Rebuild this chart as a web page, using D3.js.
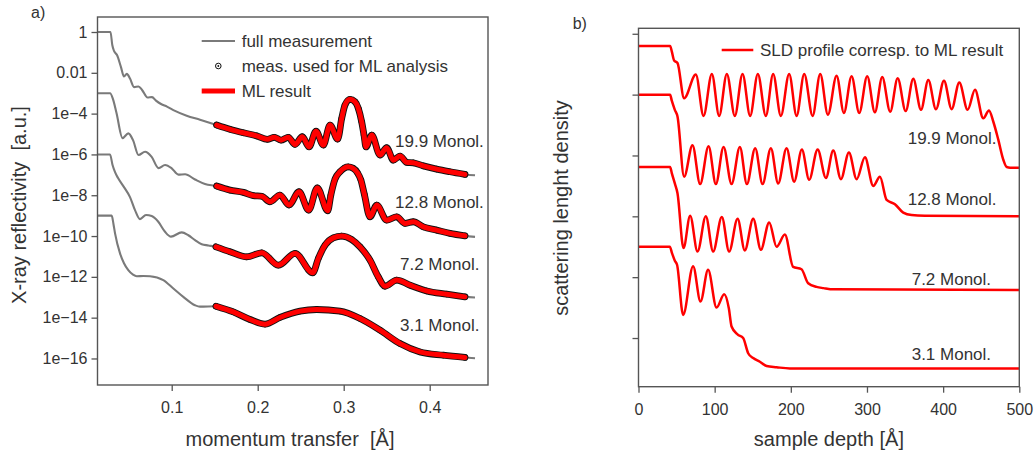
<!DOCTYPE html>
<html>
<head>
<meta charset="utf-8">
<script src="https://cdn.jsdelivr.net/npm/d3@7"></script>
<style>
  html, body { margin: 0; padding: 0; background: #fff; }
  svg { display: block; font-family: "Liberation Sans", Arial, sans-serif; }
</style>
</head>
<body>
<svg id="chart" width="1034" height="458"></svg>
<script>
// ---------- panel a: reflectivity curves, [q (1/Å), log10 R] ----------
const full199Low = [[0.0137,0],[0.0288,0],[0.0309,-0.64],[0.0329,-0.93],[0.0364,-1.13],[0.0410,-1.72],[0.0445,-2.18],[0.0478,-2.05],[0.0515,-2.28],[0.0562,-2.70],[0.0614,-2.67],[0.0655,-2.84],[0.0719,-3.21],[0.0771,-3.19],[0.0817,-3.36],[0.0876,-3.53],[0.0945,-3.66],[0.1019,-3.83],[0.1174,-4.10],[0.1329,-4.30]];
const meas199 = [[0.1523,-4.56],[0.1678,-4.77],[0.1833,-4.94],[0.1988,-5.09],[0.2112,-5.26],[0.2193,-5.16],[0.2271,-5.30],[0.2356,-5.16],[0.2434,-5.51],[0.2519,-5.13],[0.2597,-5.63],[0.2678,-4.86],[0.2763,-5.54],[0.2841,-4.56],[0.2930,-5.25],[0.2977,-4.23],[0.3015,-3.58],[0.3073,-3.30],[0.3131,-3.42],[0.3170,-3.74],[0.3209,-4.40],[0.3236,-5.05],[0.3259,-5.63],[0.3326,-5.05],[0.3422,-6.03],[0.3500,-5.67],[0.3577,-6.28],[0.3655,-6.08],[0.3733,-6.39],[0.3809,-6.41],[0.3926,-6.56],[0.4081,-6.72],[0.4236,-6.85],[0.4410,-6.98]];
const tail199 = [0.4527,-7.02];

const full128Low = [[0.0137,-3.0],[0.0283,-3.0],[0.0317,-3.29],[0.0358,-3.97],[0.0428,-5.20],[0.0495,-4.97],[0.0550,-5.30],[0.0614,-6.03],[0.0690,-5.87],[0.0767,-6.12],[0.0847,-6.67],[0.0922,-6.52],[0.1000,-6.68],[0.1077,-6.99],[0.1155,-6.97],[0.1271,-7.23],[0.1387,-7.45]];
const meas128 = [[0.1523,-7.55],[0.1678,-7.75],[0.1833,-7.86],[0.1950,-8.02],[0.2047,-8.05],[0.2143,-8.32],[0.2259,-7.99],[0.2364,-8.48],[0.2480,-7.83],[0.2593,-8.73],[0.2693,-7.64],[0.2814,-8.76],[0.2850,-8.00],[0.2900,-7.20],[0.2957,-6.85],[0.3010,-6.66],[0.3053,-6.61],[0.3110,-6.68],[0.3160,-6.90],[0.3200,-7.25],[0.3240,-7.95],[0.3306,-9.06],[0.3384,-8.48],[0.3500,-9.22],[0.3616,-9.06],[0.3713,-9.38],[0.3809,-9.30],[0.3926,-9.55],[0.4081,-9.71],[0.4236,-9.87],[0.4410,-9.99]];
const tail128 = [0.4527,-10.04];

const full72Low = [[0.0137,-6.0],[0.0283,-6.0],[0.0312,-6.52],[0.0341,-6.87],[0.0376,-7.16],[0.0445,-7.60],[0.0515,-8.09],[0.0573,-8.73],[0.0631,-9.17],[0.0701,-8.97],[0.0767,-9.02],[0.0844,-9.30],[0.0922,-9.79],[0.0992,-10.03],[0.1116,-9.82],[0.1193,-9.96],[0.1271,-10.20],[0.1349,-10.40],[0.1426,-10.46]];
const meas72 = [[0.1515,-10.53],[0.1678,-10.77],[0.1872,-11.02],[0.2047,-10.82],[0.2240,-11.43],[0.2434,-10.85],[0.2640,-11.80],[0.2705,-11.10],[0.2783,-10.45],[0.2879,-10.09],[0.2977,-10.00],[0.3093,-10.17],[0.3190,-10.53],[0.3306,-11.18],[0.3402,-12.00],[0.3480,-12.46],[0.3616,-12.16],[0.3771,-12.41],[0.3965,-12.69],[0.4198,-12.85],[0.4410,-12.98]];
const tail72 = [0.4527,-13.01];

const full31Low = [[0.0137,-9.0],[0.0302,-9.0],[0.0323,-9.42],[0.0341,-9.87],[0.0399,-10.85],[0.0445,-11.33],[0.0495,-11.67],[0.0550,-11.89],[0.0593,-11.97],[0.0670,-11.96],[0.0748,-11.97],[0.0902,-12.16],[0.1019,-12.57],[0.1135,-12.98],[0.1271,-13.39],[0.1329,-13.46]];
const meas31 = [[0.1515,-13.44],[0.1716,-13.72],[0.1910,-14.09],[0.2085,-14.32],[0.2259,-13.99],[0.2492,-13.68],[0.2686,-13.60],[0.2957,-13.68],[0.3190,-14.04],[0.3422,-14.61],[0.3655,-15.27],[0.3887,-15.68],[0.4158,-15.84],[0.4410,-15.95]];
const tail31 = [0.4527,-15.99];

const reflTickValues = [1, 1e-2, 1e-4, 1e-6, 1e-8, 1e-10, 1e-12, 1e-14, 1e-16];
const reflTickLabels = ["1", "0.01", "1e\u22124", "1e\u22126", "1e\u22128", "1e\u221210", "1e\u221212", "1e\u221214", "1e\u221216"];
const qTickValues = [0.1, 0.2, 0.3, 0.4];
const qTickLabels = ["0.1", "0.2", "0.3", "0.4"];
const filmLabels = ["19.9 Monol.", "12.8 Monol.", "7.2 Monol.", "3.1 Monol."];

// ---------- panel b: SLD profiles, [depth (Å), SLD (offset, a.u.)] ----------
const sld199 = [[0,4.80],[41.5,4.80],[43.7,4.71],[46.8,4.56],[51.2,4.52],[59.9,3.94],[75.3,4.33],[85.4,3.65],[96.3,4.34],[105.9,3.65],[116.0,4.34],[126.5,3.65],[136.6,4.34],[146.6,3.65],[156.7,4.34],[167.2,3.65],[176.8,4.34],[186.9,3.65],[197.8,4.34],[207.6,3.65],[217.6,4.34],[228.6,3.65],[238.6,4.34],[248.7,3.67],[260.1,4.31],[269.7,3.70],[279.8,4.30],[289.8,3.70],[300.3,4.30],[310.4,3.71],[320.0,4.29],[330.5,3.72],[340.3,4.27],[350.8,3.73],[360.8,4.26],[370.9,3.75],[380.5,4.24],[390.6,3.76],[401.1,4.23],[411.2,3.76],[421.2,4.20],[432.2,3.75],[441.8,4.08],[452.7,3.61],[460.2,3.74],[466.0,3.55],[472.4,3.26],[479.0,2.93],[483.5,2.81],[488.0,2.80],[500,2.80]];
const sld128 = [[0,4.00],[41.5,4.00],[43.7,3.90],[47.7,3.75],[51.2,3.64],[59.9,2.65],[70.9,3.17],[80.9,2.53],[92.0,3.15],[101.6,2.53],[111.7,3.14],[122.2,2.53],[133.1,3.14],[142.3,2.53],[153.2,3.12],[162.9,2.53],[173.8,3.12],[183.4,2.54],[194.4,3.12],[204.4,2.57],[214.5,3.10],[224.1,2.60],[235.2,3.10],[246.1,2.63],[255.7,3.08],[265.8,2.61],[276.3,3.05],[286.4,2.61],[297.3,2.97],[308.2,2.50],[317.0,2.65],[325.8,2.27],[336.7,2.20],[347.6,2.06],[358.6,2.02],[376.1,2.01],[500,2.00]];
const sld72 = [[0,2.81],[41.5,2.81],[43.7,2.71],[47.7,2.54],[51.2,2.38],[59.1,1.48],[67.8,2.01],[77.5,1.42],[88.4,2.00],[98.0,1.42],[109.4,1.99],[119.0,1.42],[130.1,1.96],[139.6,1.44],[150.6,1.96],[160.7,1.45],[171.6,1.90],[181.3,1.50],[192.2,1.70],[203.0,1.17],[214.0,1.13],[222.8,0.90],[233.8,0.84],[243.0,0.82],[256.0,0.80],[500,0.79]];
const sld31 = [[0,1.50],[41.1,1.50],[44.1,1.39],[47.7,1.27],[50.7,1.20],[58.6,0.38],[71.7,1.18],[81.4,0.60],[91.4,1.12],[102.5,0.50],[112.5,0.72],[118.6,0.49],[122.2,0.19],[130.0,0.06],[137.4,0.00],[144.0,-0.25],[150.6,-0.33],[159.4,-0.39],[168.2,-0.46],[181.3,-0.48],[198.8,-0.50],[500,-0.50]];

const depthTickValues = [0, 100, 200, 300, 400, 500];
const sldTickValues = [0, 1, 2, 3, 4, 5];

// ---------- drawing ----------
const svg = d3.select("#chart");
const ink = "#333333";
const frameColor = "#555555";
const grey = "#7a7a7a";
const red = "#ff0000";

function styleAxis(g, fontSize) {
  g.select(".domain").remove();
  g.selectAll(".tick line").attr("stroke", frameColor).attr("stroke-width", 1.3);
  g.selectAll(".tick text").attr("fill", ink).style("font-size", fontSize + "px")
    .style("font-family", '"Liberation Sans", Arial, sans-serif');
}

// ----- panel a -----
const xA = d3.scaleLinear().domain([0.0137, 0.4678]).range([97.5, 488]);
const yA = d3.scaleLog().domain([Math.pow(10, 0.735), Math.pow(10, -17.3)]).range([17, 385]);
const lineA = d3.line()
  .x(d => xA(d[0]))
  .y(d => yA(Math.pow(10, d[1])))
  .curve(d3.curveMonotoneX);

const gA = svg.append("g");

const reflSeries = [
  { low: full199Low, meas: meas199, tail: tail199 },
  { low: full128Low, meas: meas128, tail: tail128 },
  { low: full72Low,  meas: meas72,  tail: tail72 },
  { low: full31Low,  meas: meas31,  tail: tail31 }
];

reflSeries.forEach(s => {
  // full measurement
  gA.append("path")
    .attr("d", lineA([...s.low, ...s.meas, s.tail]))
    .attr("fill", "none").attr("stroke", grey).attr("stroke-width", 2.1)
    .attr("stroke-linejoin", "round");
  // densely sampled measured points form a dark band along the fit
  gA.append("path")
    .attr("d", lineA(s.meas))
    .attr("fill", "none").attr("stroke", "#111").attr("stroke-width", 6.8)
    .attr("stroke-linecap", "round").attr("stroke-linejoin", "round");
  gA.append("g").selectAll("circle").data(s.meas).join("circle")
    .attr("cx", d => xA(d[0])).attr("cy", d => yA(Math.pow(10, d[1])))
    .attr("r", 2.8).attr("fill", "none").attr("stroke", "#111").attr("stroke-width", 1);
  // ML result
  gA.append("path")
    .attr("d", lineA(s.meas))
    .attr("fill", "none").attr("stroke", red).attr("stroke-width", 5)
    .attr("stroke-linecap", "round").attr("stroke-linejoin", "round");
});

// film thickness labels, panel a
const labelPosA = [[395, 146.7], [395, 208.3], [400, 270], [400, 330.7]];
gA.selectAll("text.film").data(filmLabels).join("text")
  .attr("class", "film")
  .attr("x", (d, i) => labelPosA[i][0]).attr("y", (d, i) => labelPosA[i][1])
  .attr("fill", ink).style("font-size", "17px").text(d => d);

// axes a
const axLeftA = gA.append("g").attr("transform", "translate(97.5,0)")
  .call(d3.axisLeft(yA).tickValues(reflTickValues)
    .tickFormat((d, i) => reflTickLabels[i]).tickSize(6).tickPadding(4));
styleAxis(axLeftA, 16);
const axBottomA = gA.append("g").attr("transform", "translate(0,385)")
  .call(d3.axisBottom(xA).tickValues(qTickValues)
    .tickFormat((d, i) => qTickLabels[i]).tickSize(6).tickPadding(11));
styleAxis(axBottomA, 16);

gA.append("rect").attr("x", 97.5).attr("y", 17).attr("width", 488 - 97.5).attr("height", 385 - 17)
  .attr("fill", "none").attr("stroke", frameColor).attr("stroke-width", 1.4);

// legend a
const legA = gA.append("g");
legA.append("line").attr("x1", 201.7).attr("x2", 235).attr("y1", 41).attr("y2", 41)
  .attr("stroke", grey).attr("stroke-width", 2.1);
legA.append("circle").attr("cx", 218.3).attr("cy", 66).attr("r", 2.8)
  .attr("fill", "none").attr("stroke", "#111").attr("stroke-width", 1);
legA.append("circle").attr("cx", 218.3).attr("cy", 66).attr("r", 0.9).attr("fill", "#111");
legA.append("line").attr("x1", 201.7).attr("x2", 235).attr("y1", 91).attr("y2", 91)
  .attr("stroke", red).attr("stroke-width", 5);
const legTextA = ["full measurement", "meas. used for ML analysis", "ML result"];
legA.selectAll("text").data(legTextA).join("text")
  .attr("x", 241.7).attr("y", (d, i) => 47 + i * 25)
  .attr("fill", ink).style("font-size", "17px").text(d => d);

// titles a
gA.append("text").attr("transform", "translate(26,205) rotate(-90)")
  .attr("text-anchor", "middle").attr("fill", ink).style("font-size", "20px")
  .attr("xml:space", "preserve").text("X-ray reflectivity  [a.u.]");
gA.append("text").attr("x", 290).attr("y", 446)
  .attr("text-anchor", "middle").attr("fill", ink).style("font-size", "20px")
  .attr("xml:space", "preserve").text("momentum transfer  [\u00C5]");
gA.append("text").attr("x", 31).attr("y", 18).attr("fill", ink)
  .style("font-size", "16px").text("a)");

// ----- panel b -----
const xB = d3.scaleLinear().domain([0, 500]).range([638.5, 1019.3]);
const yB = d3.scaleLinear().domain([-0.80, 5.09]).range([386.7, 28.3]);
const lineB = d3.line().x(d => xB(d[0])).y(d => yB(d[1])).curve(d3.curveMonotoneX);

const gB = svg.append("g");
[sld199, sld128, sld72, sld31].forEach(p => {
  gB.append("path").attr("d", lineB(p))
    .attr("fill", "none").attr("stroke", red).attr("stroke-width", 2.5)
    .attr("stroke-linejoin", "round");
});

const labelPosB = [[907.7, 144], [907.7, 205], [911.7, 285], [911.7, 360]];
gB.selectAll("text.film").data(filmLabels).join("text")
  .attr("class", "film")
  .attr("x", (d, i) => labelPosB[i][0]).attr("y", (d, i) => labelPosB[i][1])
  .attr("fill", ink).style("font-size", "17px").text(d => d);

const axLeftB = gB.append("g").attr("transform", "translate(638.5,0)")
  .call(d3.axisLeft(yB).tickValues(sldTickValues).tickFormat("").tickSize(6));
styleAxis(axLeftB, 16);
const axBottomB = gB.append("g").attr("transform", "translate(0,386.7)")
  .call(d3.axisBottom(xB).tickValues(depthTickValues).tickFormat(d3.format("d"))
    .tickSize(6).tickPadding(11));
styleAxis(axBottomB, 16);

gB.append("rect").attr("x", 638.5).attr("y", 28.3).attr("width", 1019.3 - 638.5).attr("height", 386.7 - 28.3)
  .attr("fill", "none").attr("stroke", frameColor).attr("stroke-width", 1.4);

// legend b
gB.append("line").attr("x1", 721.7).attr("x2", 753.3).attr("y1", 50).attr("y2", 50)
  .attr("stroke", red).attr("stroke-width", 2.5);
gB.append("text").attr("x", 760).attr("y", 56).attr("fill", ink)
  .style("font-size", "17px").text("SLD profile corresp. to ML result");

// titles b
gB.append("text").attr("transform", "translate(568,208) rotate(-90)")
  .attr("text-anchor", "middle").attr("fill", ink).style("font-size", "20px")
  .text("scattering lenght density");
gB.append("text").attr("x", 828.9).attr("y", 446)
  .attr("text-anchor", "middle").attr("fill", ink).style("font-size", "20px")
  .text("sample depth [\u00C5]");
gB.append("text").attr("x", 572.7).attr("y", 29).attr("fill", ink)
  .style("font-size", "16px").text("b)");
</script>
</body>
</html>
